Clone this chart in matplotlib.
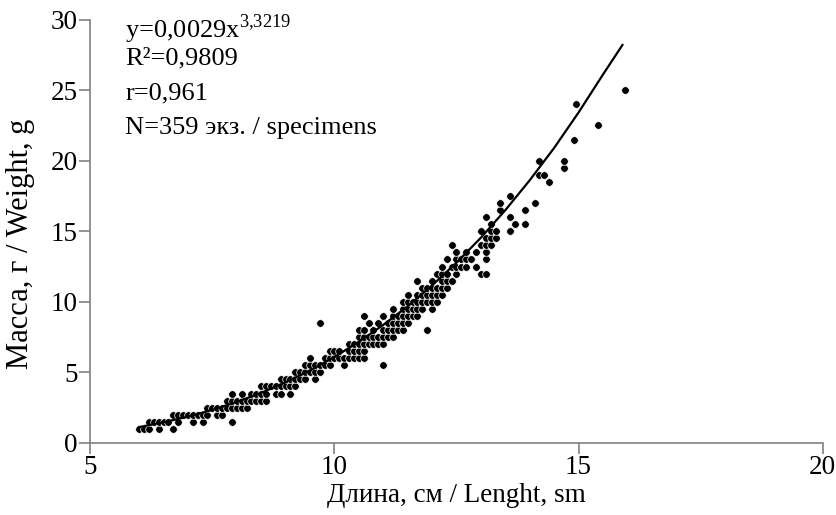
import matplotlib
matplotlib.use("Agg")
import matplotlib.pyplot as plt

plt.rcParams['font.family'] = ['Liberation Serif', 'DejaVu Serif']
plt.rcParams['mathtext.fontset'] = 'custom'
plt.rcParams['mathtext.rm'] = 'Liberation Serif'

# length (cm) / weight (g) of the specimens
length = [
    6.0, 6.1, 6.2, 6.4, 6.7,                                   # 1.0
    6.2, 6.3, 6.4, 6.5, 6.6, 6.8, 7.1, 7.3, 7.9,               # 1.5
    6.7, 6.8, 6.9, 7.0, 7.1, 7.2, 7.3, 7.4, 7.6, 7.7,          # 2.0
    7.4, 7.5, 7.6, 7.7, 7.8, 7.9, 8.0, 8.1, 8.2,               # 2.5
    7.8, 7.9, 8.0, 8.1, 8.2, 8.3, 8.4, 8.5, 8.6,               # 3.0
    7.9, 8.1, 8.3, 8.4, 8.5, 8.6, 8.8, 8.9, 9.1,               # 3.5
    8.5, 8.6, 8.7, 8.8, 8.9, 9.0, 9.1, 9.2,                    # 4.0
    8.9, 9.0, 9.1, 9.2, 9.3, 9.4, 9.6,                         # 4.5
    9.2, 9.3, 9.4, 9.5, 9.6, 9.7,                              # 5.0
    9.4, 9.5, 9.6, 9.7, 9.8, 9.9, 10.2, 11.0,                  # 5.5
    9.5, 9.8, 9.9, 10.0, 10.1, 10.2, 10.3, 10.4, 10.5, 10.6,   # 6.0
    9.9, 10.0, 10.1, 10.3, 10.4, 10.5, 10.6,                   # 6.5
    10.3, 10.4, 10.5, 10.6, 10.7, 10.8, 10.9, 11.0,            # 7.0
    10.5, 10.6, 10.7, 10.8, 10.9, 11.0, 11.1, 11.2,            # 7.5
    10.5, 10.6, 10.8, 11.0, 11.1, 11.2, 11.3, 11.4, 11.9,      # 8.0
    9.7, 10.7, 10.9, 11.1, 11.2, 11.3, 11.4, 11.5,             # 8.5
    10.6, 11.0, 11.2, 11.3, 11.4, 11.5, 11.6, 11.7,            # 9.0
    11.2, 11.4, 11.5, 11.6, 11.7, 11.8, 12.0,                  # 9.5
    11.4, 11.5, 11.6, 11.7, 11.8, 11.9, 12.0, 12.1,            # 10.0
    11.5, 11.7, 11.8, 11.9, 12.0, 12.1, 12.2,                  # 10.5
    11.8, 11.9, 12.0, 12.1, 12.2, 12.3,                        # 11.0
    11.7, 12.0, 12.2, 12.3, 12.4,                              # 11.5
    12.1, 12.2, 12.3, 12.5, 13.0, 13.1,                        # 12.0
    12.2, 12.4, 12.5, 12.6, 12.7, 12.9,                        # 12.5
    12.3, 12.5, 12.6, 12.7, 12.8, 13.1,                        # 13.0
    12.5, 12.7, 12.9, 13.1,                                    # 13.5
    12.4, 13.0, 13.1, 13.2,                                    # 14.0
    13.1, 13.2, 13.3,                                          # 14.5
    13.0, 13.2, 13.3, 13.6,                                    # 15.0
    13.2, 13.7, 13.9,                                          # 15.5
    13.1, 13.6,                                                # 16.0
    13.4, 13.9,                                                # 16.5
    13.4, 14.1,                                                # 17.0
    13.6,                                                      # 17.5
    14.4,                                                      # 18.5
    14.2, 14.3,                                                # 19.0
    14.7,                                                      # 19.5
    14.2, 14.7,                                                # 20.0
    14.9, 15.4, 14.95, 15.95,                                  # 21.5 .. 25
]
weight = (
    [1.0] * 5 + [1.5] * 9 + [2.0] * 10 + [2.5] * 9 + [3.0] * 9 + [3.5] * 9
    + [4.0] * 8 + [4.5] * 7 + [5.0] * 6 + [5.5] * 8 + [6.0] * 10 + [6.5] * 7
    + [7.0] * 8 + [7.5] * 8 + [8.0] * 9 + [8.5] * 8 + [9.0] * 8 + [9.5] * 7
    + [10.0] * 8 + [10.5] * 7 + [11.0] * 6 + [11.5] * 5 + [12.0] * 6
    + [12.5] * 6 + [13.0] * 6 + [13.5] * 4 + [14.0] * 4 + [14.5] * 3
    + [15.0] * 4 + [15.5] * 3 + [16.0] * 2 + [16.5] * 2 + [17.0] * 2
    + [17.5] + [18.5] + [19.0] * 2 + [19.5] + [20.0] * 2
    + [21.5, 22.5, 24.0, 25.0]
)

# power trend line as drawn on the chart
trend_x = [6.0, 6.5, 7.0, 7.5, 8.0, 8.5, 9.0, 9.5, 10.0, 10.5, 11.0,
           11.5, 12.0, 12.5, 13.0, 13.5, 14.0, 14.5, 15.0, 15.5, 15.9]
trend_y = [1.12, 1.46, 1.86, 2.34, 2.90, 3.55, 4.29, 5.13, 6.09, 7.16, 8.36,
           9.68, 11.16, 12.77, 14.54, 16.49, 18.61, 20.90, 23.41, 26.1, 28.2]

notes = [r'y=0,0029x$^{\mathrm{3{,}3219}}$', 'R²=0,9809', 'r=0,961',
         'N=359 экз. / specimens']

fig = plt.figure(figsize=(8.36, 5.15), dpi=100)
ax = fig.add_axes([0.108, 0.14, 0.876, 0.822])

ax.scatter(length, weight, s=30, c='black', edgecolors='white',
           linewidths=0.5, zorder=2)
ax.plot(trend_x, trend_y, color='black', lw=1.6, zorder=3)

ax.set_xlim(5, 20)
ax.set_ylim(0, 30)
ax.set_xticks([5, 10, 15, 20])
ax.set_yticks([0, 5, 10, 15, 20, 25, 30])

for side in ('top', 'right'):
    ax.spines[side].set_visible(False)
for side in ('left', 'bottom'):
    ax.spines[side].set_color('#808080')
    ax.spines[side].set_linewidth(1.2)
ax.tick_params(direction='out', length=8, width=1.2, color='#808080',
               labelsize=19.5, labelcolor='black', pad=1)

ax.set_xlabel('Длина, см / Lenght, sm', fontsize=19.5, labelpad=2)
ax.set_ylabel('Масса, г / Weight, g', fontsize=22)
ax.yaxis.set_label_coords(-0.075, 0.47)

for i, t in enumerate(notes):
    ax.text(0.048, 1.018 - i * 0.083, t, transform=ax.transAxes,
            fontsize=19, va='top', ha='left')

fig.savefig('out.png', dpi=100)
